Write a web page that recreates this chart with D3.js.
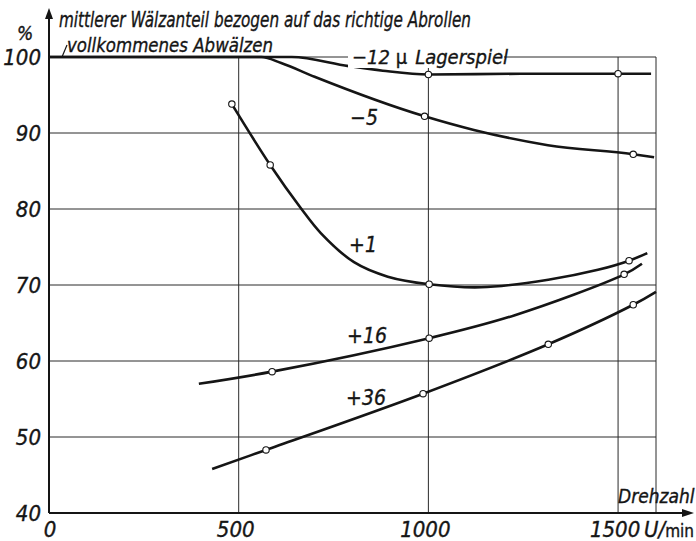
<!DOCTYPE html>
<html>
<head>
<meta charset="utf-8">
<script src="https://cdn.jsdelivr.net/npm/d3@7"></script>
<style>
  html, body { margin: 0; padding: 0; background: #fff; }
  svg { display: block; }
  text { font-family: "DejaVu Sans Condensed", "Liberation Sans Narrow", "Liberation Sans", sans-serif; font-style: italic; fill: #151515; stroke: #151515; stroke-width: 0.35px; }
</style>
</head>
<body>
<svg id="chart" width="696" height="541"></svg>
<script>
// Drehzahl (U/min) und mittlerer Wälzanteil (%) je Lagerspiel
const rpmTicks = [0, 500, 1000, 1500];
const pctTicks = [40, 50, 60, 70, 80, 90, 100];

// Kurvenverläufe [Drehzahl, Wälzanteil]
const spielMinus12 = [[0, 100], [640, 100], [790, 98.8], [880, 98.2], [1000, 97.7], [1250, 97.8], [1500, 97.8], [1587, 97.8]];
const spielMinus5  = [[0, 100], [560, 100], [612, 99.2], [700, 97.4], [990, 92.2], [1120, 90.4], [1315, 88.4], [1540, 87.2], [1595, 86.8]];
const spielPlus1   = [[482, 93.8], [583, 85.8], [664, 80.1], [717, 76.8], [804, 73.0], [893, 71.1], [1002, 70.1], [1139, 69.7], [1316, 70.7], [1447, 72.0], [1529, 73.2], [1577, 74.2]];
const spielPlus16  = [[395, 57.0], [588, 58.6], [1002, 63.0], [1226, 66.0], [1516, 71.4], [1563, 72.8]];
const spielPlus36  = [[430, 45.8], [572, 48.3], [986, 55.7], [1316, 62.2], [1540, 67.4], [1600, 69.1]];

// Messpunkte (offene Kreise)
const punkteMinus12 = [[1000, 97.7], [1500, 97.8]];
const punkteMinus5  = [[990, 92.2], [1540, 87.2]];
const punktePlus1   = [[482, 93.8], [583, 85.8], [1002, 70.1], [1529, 73.2]];
const punktePlus16  = [[588, 58.6], [1002, 63.0], [1516, 71.4]];
const punktePlus36  = [[572, 48.3], [986, 55.7], [1316, 62.2], [1540, 67.4]];

const kurvenNamen = ["−5", "+1", "+16", "+36"];

const svg = d3.select("#chart");
const x = d3.scaleLinear().domain([0, 1600]).range([49, 656]);
const y = d3.scaleLinear().domain([40, 100]).range([513, 57]);
const ink = "#151515";

// Raster
const grid = svg.append("g").attr("stroke", "#2a2a2a").attr("stroke-width", 1).attr("fill", "none");
grid.selectAll("line.h").data(pctTicks.filter(v => v > 40)).join("line")
  .attr("x1", x(0)).attr("x2", x(1600))
  .attr("y1", d => y(d)).attr("y2", d => y(d));
grid.selectAll("line.v").data(rpmTicks.filter(v => v > 0).concat([1600])).join("line")
  .attr("x1", d => x(d)).attr("x2", d => x(d))
  .attr("y1", y(100)).attr("y2", y(40));

// Achsen mit Pfeilen
svg.append("line").attr("x1", x(0)).attr("x2", 686).attr("y1", y(40)).attr("y2", y(40))
  .attr("stroke", ink).attr("stroke-width", 2);
svg.append("path").attr("d", `M694,${y(40)} L682,${y(40) - 4} L682,${y(40) + 4} Z`).attr("fill", ink);
svg.append("line").attr("x1", x(0)).attr("x2", x(0)).attr("y1", y(40)).attr("y2", 16)
  .attr("stroke", ink).attr("stroke-width", 2);
svg.append("path").attr("d", `M${x(0)},8 L${x(0) - 4},19 L${x(0) + 4},19 Z`).attr("fill", ink);

// Achsenbeschriftung
svg.append("g").selectAll("text").data(pctTicks).join("text")
  .attr("x", 41).attr("y", d => y(d) + 8)
  .attr("text-anchor", "end").attr("font-size", 22)
  .text(d => d);
svg.append("text").attr("x", 25).attr("y", 40).attr("text-anchor", "middle").attr("font-size", 19).text("%");

svg.append("g").selectAll("text").data(rpmTicks).join("text")
  .attr("x", d => x(d) - (d === 0 ? -1 : 3)).attr("y", 537)
  .attr("text-anchor", "middle").attr("font-size", 22)
  .text(d => d);
const unit = svg.append("text").attr("x", 644).attr("y", 537).attr("font-size", 22);
unit.append("tspan").text("U/");
unit.append("tspan").attr("font-style", "normal").attr("font-size", 17).text("min");

svg.append("text").attr("x", 618).attr("y", 503).attr("font-size", 19).text("Drehzahl");

svg.append("text").attr("x", 59).attr("y", 27).attr("font-size", 21)
  .attr("textLength", 412).attr("lengthAdjust", "spacingAndGlyphs")
  .text("mittlerer Wälzanteil bezogen auf das richtige Abrollen");
svg.append("text").attr("x", 67).attr("y", 52).attr("font-size", 20)
  .attr("textLength", 206).attr("lengthAdjust", "spacingAndGlyphs")
  .text("vollkommenes Abwälzen");
svg.append("line").attr("x1", 62).attr("y1", 57).attr("x2", 67).attr("y2", 45)
  .attr("stroke", ink).attr("stroke-width", 1.2);

// Kurven: flach auslaufende Äste monoton, die übrigen als Catmull-Rom-Spline
const monotone = d3.line().x(d => x(d[0])).y(d => y(d[1])).curve(d3.curveMonotoneX);
const spline = d3.line().x(d => x(d[0])).y(d => y(d[1])).curve(d3.curveCatmullRom.alpha(0.5));
const kurven = [
  { pts: spielMinus12, gen: monotone },
  { pts: spielMinus5, gen: monotone },
  { pts: spielPlus1, gen: spline },
  { pts: spielPlus16, gen: spline },
  { pts: spielPlus36, gen: spline }
];
svg.append("g").selectAll("path").data(kurven).join("path")
  .attr("d", d => d.gen(d.pts)).attr("fill", "none").attr("stroke", ink)
  .attr("stroke-width", 2.6).attr("stroke-linejoin", "round");

// Messpunkte
const punkte = [].concat(punkteMinus12, punkteMinus5, punktePlus1, punktePlus16, punktePlus36);
svg.append("g").selectAll("circle").data(punkte).join("circle")
  .attr("cx", d => x(d[0])).attr("cy", d => y(d[1])).attr("r", 3.2)
  .attr("fill", "#fff").attr("stroke", ink).attr("stroke-width", 1.1);

// Kurvenbezeichnungen
const lab = svg.append("g");
lab.append("rect").attr("x", 348).attr("y", 46).attr("width", 156).attr("height", 22).attr("fill", "#fff");
const l12 = lab.append("text").attr("x", 352).attr("y", 64).attr("font-size", 20);
l12.append("tspan").text("−12 ");
l12.append("tspan").attr("font-style", "normal").text("μ");
l12.append("tspan").attr("dx", 8).text("Lagerspiel");

const namePos = [[364, 125], [363, 252], [367, 343], [366, 405]];
lab.selectAll("text.k").data(kurvenNamen).join("text")
  .attr("x", (d, i) => namePos[i][0]).attr("y", (d, i) => namePos[i][1])
  .attr("text-anchor", "middle").attr("font-size", 21)
  .text(d => d);
</script>
</body>
</html>
